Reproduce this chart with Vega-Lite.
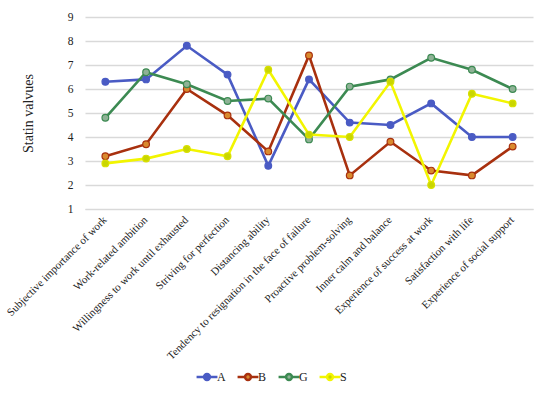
{
  "$schema": "https://vega.github.io/schema/vega-lite/v6.json",
  "width": 448,
  "height": 192,
  "autosize": {"type": "none"},
  "padding": {"left": 85, "top": 17, "right": 17, "bottom": 187},
  "background": "white",
  "config": {
    "font": "Times New Roman, Liberation Serif, serif",
    "view": {"stroke": null},
    "axis": {"labelFont": "Times New Roman, Liberation Serif, serif", "titleFont": "Times New Roman, Liberation Serif, serif", "labelColor": "#222", "titleColor": "#222"},
    "legend": {"labelFont": "Times New Roman, Liberation Serif, serif"}
  },
  "data": {"values": [
    {"c": "Subjective importance of work", "s": "A", "v": 6.3},
    {"c": "Work-related ambition", "s": "A", "v": 6.4},
    {"c": "Willingness to work until exhausted", "s": "A", "v": 7.8},
    {"c": "Striving for perfection", "s": "A", "v": 6.6},
    {"c": "Distancing ability", "s": "A", "v": 2.8},
    {"c": "Tendency to resignation in the face of failure", "s": "A", "v": 6.4},
    {"c": "Proactive problem-solving", "s": "A", "v": 4.6},
    {"c": "Inner calm and balance", "s": "A", "v": 4.5},
    {"c": "Experience of success at work", "s": "A", "v": 5.4},
    {"c": "Satisfaction with life", "s": "A", "v": 4.0},
    {"c": "Experience of social support", "s": "A", "v": 4.0},
    {"c": "Subjective importance of work", "s": "B", "v": 3.2},
    {"c": "Work-related ambition", "s": "B", "v": 3.7},
    {"c": "Willingness to work until exhausted", "s": "B", "v": 6.0},
    {"c": "Striving for perfection", "s": "B", "v": 4.9},
    {"c": "Distancing ability", "s": "B", "v": 3.4},
    {"c": "Tendency to resignation in the face of failure", "s": "B", "v": 7.4},
    {"c": "Proactive problem-solving", "s": "B", "v": 2.4},
    {"c": "Inner calm and balance", "s": "B", "v": 3.8},
    {"c": "Experience of success at work", "s": "B", "v": 2.6},
    {"c": "Satisfaction with life", "s": "B", "v": 2.4},
    {"c": "Experience of social support", "s": "B", "v": 3.6},
    {"c": "Subjective importance of work", "s": "G", "v": 4.8},
    {"c": "Work-related ambition", "s": "G", "v": 6.7},
    {"c": "Willingness to work until exhausted", "s": "G", "v": 6.2},
    {"c": "Striving for perfection", "s": "G", "v": 5.5},
    {"c": "Distancing ability", "s": "G", "v": 5.6},
    {"c": "Tendency to resignation in the face of failure", "s": "G", "v": 3.9},
    {"c": "Proactive problem-solving", "s": "G", "v": 6.1},
    {"c": "Inner calm and balance", "s": "G", "v": 6.4},
    {"c": "Experience of success at work", "s": "G", "v": 7.3},
    {"c": "Satisfaction with life", "s": "G", "v": 6.8},
    {"c": "Experience of social support", "s": "G", "v": 6.0},
    {"c": "Subjective importance of work", "s": "S", "v": 2.9},
    {"c": "Work-related ambition", "s": "S", "v": 3.1},
    {"c": "Willingness to work until exhausted", "s": "S", "v": 3.5},
    {"c": "Striving for perfection", "s": "S", "v": 3.2},
    {"c": "Distancing ability", "s": "S", "v": 6.8},
    {"c": "Tendency to resignation in the face of failure", "s": "S", "v": 4.1},
    {"c": "Proactive problem-solving", "s": "S", "v": 4.0},
    {"c": "Inner calm and balance", "s": "S", "v": 6.3},
    {"c": "Experience of success at work", "s": "S", "v": 2.0},
    {"c": "Satisfaction with life", "s": "S", "v": 5.8},
    {"c": "Experience of social support", "s": "S", "v": 5.4}
  ]},
  "encoding": {
    "x": {
      "field": "c", "type": "nominal", "sort": null,
      "scale": {"type": "band", "paddingInner": 0, "paddingOuter": 0},
      "axis": {"title": null, "labelAngle": -45, "labelAlign": "right", "labelBaseline": "middle", "labelFontSize": 11, "labelPadding": 9, "ticks": false, "domainColor": "#d9d9d9", "grid": false, "labelLimit": 300}
    },
    "y": {
      "field": "v", "type": "quantitative",
      "scale": {"domain": [1, 9], "nice": false},
      "axis": {"title": "Statin valvues", "titleFontSize": 14, "titleFontWeight": "normal", "titlePadding": 32, "values": [1,2,3,4,5,6,7,8,9], "labelFontSize": 11.5, "labelPadding": 12, "ticks": false, "domain": false, "gridColor": "#d9d9d9", "gridWidth": 1.3}
    }
  },
  "layer": [
    {
      "mark": {"type": "line", "strokeWidth": 2.6},
      "encoding": {
        "color": {
          "field": "s", "type": "nominal",
          "scale": {"domain": ["A", "B", "G", "S"], "range": ["#4a5bc4", "#a8300e", "#3c8a52", "#f2f500"]},
          "legend": {
            "title": null, "orient": "none", "legendX": 114, "legendY": 352, "direction": "horizontal",
            "labelFontSize": 12, "labelColor": "#222", "columnPadding": 6, "labelOffset": 2,
            "symbolType": "M-1.6,0H-0.45M0.45,0H1.6M-0.45,0A0.45,0.45 0 1,1 0.45,0A0.45,0.45 0 1,1 -0.45,0",
            "symbolSize": 170, "symbolStrokeWidth": 2.5,
            "encode": {"symbols": {"update": {"fill": {"scale": "color", "field": "value"}}}}
          }
        }
      }
    },
    {
      "mark": {"type": "point", "filled": true, "size": 45, "strokeWidth": 1.2, "opacity": 1},
      "encoding": {
        "fill": {
          "field": "s", "type": "nominal",
          "scale": {"domain": ["A", "B", "G", "S"], "range": ["#4a5bc4", "#d98a2e", "#8fb296", "#c9d600"]},
          "legend": null
        },
        "stroke": {
          "field": "s", "type": "nominal",
          "scale": {"domain": ["A", "B", "G", "S"], "range": ["#4a5bc4", "#a8300e", "#3c8a52", "#d8e000"]},
          "legend": null
        }
      }
    }
  ]
}
